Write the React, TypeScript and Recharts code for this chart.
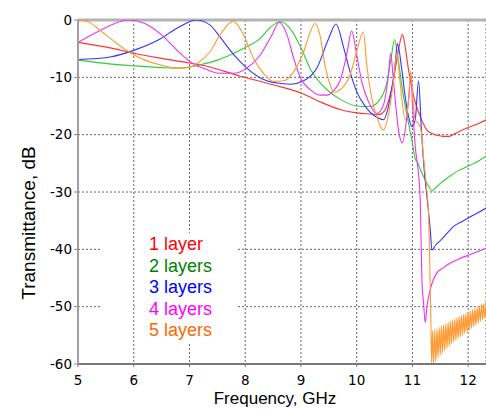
import React from "react";
import {
  LineChart,
  Line,
  XAxis,
  YAxis,
  CartesianGrid,
  ReferenceLine,
  ReferenceArea,
} from "recharts";

const xTicks = [5, 6, 7, 8, 9, 10, 11, 12];
const yTicks = [-60, -50, -40, -30, -20, -10, 0];

const legendLabels = ["1 layer", "2 layers", "3 layers", "4 layers", "5 layers"];

const layer1: [number, number][] = [
  [5, -3.9], [5.6, -4.9], [6.0, -5.8], [6.5, -6.7], [7.0, -7.5], [7.33, -8.1],
  [7.91, -9.8], [8.5, -11.3], [9.02, -12.8], [9.35, -14.3], [9.7, -15.6],
  [10.0, -16.2], [10.25, -16.4], [10.4, -16.5], [10.5, -15.8], [10.58, -13.8],
  [10.66, -10.5], [10.74, -5.8], [10.82, -2.5], [10.88, -5.3], [10.93, -8.7],
  [10.98, -11.3], [11.03, -13.6], [11.08, -15.3], [11.14, -16.8], [11.2, -18.2],
  [11.26, -19.2], [11.35, -19.8], [11.44, -20.1], [11.55, -20.3], [11.65, -20.3],
  [11.75, -19.9], [11.85, -19.4], [12.04, -18.6], [12.2, -18.0], [12.32, -17.4],
];

const layer2: [number, number][] = [
  [5, -7.0], [5.6, -7.7], [6.0, -8.0], [6.5, -8.3], [6.8, -8.4], [7.0, -8.2],
  [7.2, -7.8], [7.5, -7.0], [7.75, -6.0], [8.0, -4.8], [8.27, -3.2], [8.45, -1.3],
  [8.63, -0.3], [8.8, -1.4], [9.0, -4.8], [9.17, -8.6], [9.35, -11.0], [9.52, -12.6],
  [9.7, -13.8], [10.0, -15.0], [10.24, -15.1], [10.42, -13.8], [10.54, -11.0],
  [10.62, -6.5], [10.68, -3.4], [10.74, -6.5], [10.8, -10.8], [10.87, -15.0],
  [10.94, -18.5], [11.0, -21.5], [11.05, -24.2], [11.1, -25.0], [11.15, -26.3],
  [11.2, -27.3], [11.29, -29.0], [11.35, -29.8], [11.42, -29.2], [11.5, -28.5],
  [11.65, -27.4], [11.8, -26.4], [12.04, -25.3], [12.2, -24.5], [12.32, -23.8],
];

const layer3: [number, number][] = [
  [5, -6.9], [5.6, -6.4], [6.0, -5.3], [6.44, -3.5], [6.8, -1.3], [7.12, 0],
  [7.37, -0.9], [7.55, -3.0], [7.79, -6.0], [8.03, -8.4], [8.27, -10.1],
  [8.57, -11.0], [8.81, -11.2], [9.05, -10.6], [9.29, -8.3], [9.49, -3.4],
  [9.63, -0.7], [9.76, -4.6], [9.88, -9.0], [10.0, -12.5], [10.18, -15.4],
  [10.39, -17.1], [10.48, -17.4], [10.6, -13.6], [10.69, -7.8], [10.73, -4.1],
  [10.81, -8.7], [10.87, -13.4], [10.93, -16.8], [10.99, -18.6], [11.05, -17.4],
  [11.11, -10.6], [11.16, -19.0], [11.21, -26.0], [11.26, -30.8], [11.32, -36.6],
  [11.35, -40.1], [11.42, -39.2], [11.5, -38.5], [11.62, -37.2], [11.74, -36.0],
  [11.9, -35.1], [12.04, -34.3], [12.2, -33.5], [12.32, -32.8],
];

const layer4: [number, number][] = [
  [5, -3.9], [5.36, -2.0], [5.66, -0.6], [5.9, 0], [6.2, -0.6], [6.5, -2.6],
  [6.8, -5.5], [7.03, -7.4], [7.3, -8.6], [7.55, -9.3], [7.79, -9.3], [8.03, -8.4],
  [8.27, -6.1], [8.48, -2.6], [8.61, -0.4], [8.75, -2.6], [8.87, -6.7], [8.99, -10.1],
  [9.17, -12.2], [9.34, -13.1], [9.46, -13.1], [9.58, -12.4], [9.7, -10.6],
  [9.82, -6.1], [9.91, -1.9], [10.0, -6.1], [10.09, -10.7], [10.21, -14.2],
  [10.36, -16.3], [10.48, -14.8], [10.57, -9.6], [10.61, -5.8], [10.65, -9.5],
  [10.7, -14.8], [10.75, -19.2], [10.82, -21.4], [10.88, -18.5], [10.93, -14.0],
  [10.97, -10.0], [11.01, -16.0], [11.05, -22.0], [11.1, -26.0], [11.14, -31.4],
  [11.17, -45.3], [11.2, -49.4], [11.23, -52.8], [11.26, -50.0], [11.32, -47.0],
  [11.44, -44.1], [11.56, -43.2], [11.68, -42.4], [11.85, -41.6], [12.04, -40.9],
  [12.2, -40.3], [12.32, -39.8],
];

const layer5: [number, number][] = [
  [5, 0], [5.18, -0.3], [5.42, -2.0], [5.66, -3.8], [5.9, -5.5], [6.2, -7.0],
  [6.5, -7.9], [6.8, -8.4], [6.97, -8.3], [7.15, -7.5], [7.37, -5.5], [7.55, -2.6],
  [7.78, -0.2], [7.97, -2.6], [8.15, -6.7], [8.33, -9.3], [8.51, -10.7], [8.69, -10.6],
  [8.87, -9.0], [9.05, -5.5], [9.17, -2.0], [9.25, -0.6], [9.34, -2.6], [9.43, -7.8],
  [9.52, -11.2], [9.6, -12.6], [9.7, -12.2], [9.88, -9.6], [10.0, -5.5], [10.12, -2.1],
  [10.18, -7.8], [10.27, -13.6], [10.39, -17.7], [10.48, -19.2], [10.57, -16.5],
  [10.66, -10.7], [10.72, -5.8], [10.78, -11.0], [10.87, -17.4], [10.93, -14.0],
  [10.97, -9.0], [11.01, -14.0], [11.05, -17.5], [11.1, -18.0], [11.15, -19.0],
  [11.2, -24.0], [11.25, -29.0], [11.29, -34.0], [11.31, -42.0], [11.33, -52.0],
  [11.345, -60.0],
  [11.36, -54.2], [11.38, -60.0], [11.4, -54.0], [11.42, -59.6], [11.44, -53.8],
  [11.46, -59.0], [11.48, -53.6], [11.5, -58.5], [11.52, -53.3], [11.54, -58.1],
  [11.56, -53.1], [11.58, -57.7], [11.6, -52.9], [11.62, -57.3], [11.64, -52.7],
  [11.66, -56.9], [11.68, -52.5], [11.7, -56.5], [11.72, -52.3], [11.74, -56.2],
  [11.76, -52.1], [11.78, -55.9], [11.8, -51.9], [11.82, -55.6], [11.84, -51.7],
  [11.86, -55.3], [11.88, -51.5], [11.9, -55.0], [11.92, -51.3], [11.94, -54.7],
  [11.96, -51.1], [11.98, -54.4], [12.0, -50.9], [12.02, -54.1], [12.04, -50.7],
  [12.06, -53.8], [12.08, -50.5], [12.1, -53.5], [12.12, -50.3], [12.14, -53.2],
  [12.16, -50.1], [12.18, -52.9], [12.2, -49.9], [12.22, -52.6], [12.24, -49.6],
  [12.26, -52.3], [12.28, -49.4], [12.3, -52.0], [12.32, -49.1],
];

const toPts = (arr: [number, number][]) => arr.map(([x, y]) => ({ x, y }));

const series = [
  { name: legendLabels[0], data: toPts(layer1), stroke: "#ff3333", text: "#ff0000" },
  { name: legendLabels[1], data: toPts(layer2), stroke: "#33cc33", text: "#008000" },
  { name: legendLabels[2], data: toPts(layer3), stroke: "#3333ff", text: "#0000ff" },
  { name: legendLabels[3], data: toPts(layer4), stroke: "#ee33ee", text: "#ff00ff" },
  { name: legendLabels[4], data: toPts(layer5), stroke: "#ff9933", text: "#ff6600" },
];

const tickStyle = { fontFamily: "DejaVu Sans", fontSize: 13.5, fill: "#000" };

export default function App() {
  return (
    <div style={{ position: "absolute", left: 0, top: 0, width: 486, height: 409, background: "#fff" }}>
      <LineChart width={486} height={409} margin={{ top: 20, right: 0, bottom: 0, left: 0 }}>
        <CartesianGrid stroke="#666" strokeDasharray="2 2" />
        <ReferenceArea x1={5.4} x2={5.98} y1={-56.3} y2={-37.1} fill="#fff" fillOpacity={1} stroke="none" />
        <ReferenceArea x1={6.02} x2={7.85} y1={-56.3} y2={-37.1} fill="#fff" fillOpacity={1} stroke="none" />
        <XAxis
          type="number"
          dataKey="x"
          domain={[5, 12.32]}
          ticks={xTicks}
          allowDataOverflow
          height={45}
          tick={tickStyle}
          tickSize={3}
          tickMargin={8}
          axisLine={{ stroke: "#777", strokeWidth: 2 }}
          tickLine={{ stroke: "#777" }}
        />
        <YAxis
          type="number"
          dataKey="y"
          domain={[-60, 0]}
          ticks={yTicks}
          allowDataOverflow
          width={78}
          tick={tickStyle}
          tickSize={4}
          tickMargin={2}
          axisLine={{ stroke: "#a0a0a0", strokeWidth: 2 }}
          tickLine={{ stroke: "#888" }}
        />
        <ReferenceLine y={0} stroke="#b3b3b3" strokeWidth={3} />
        {series.map((s) => (
          <Line
            key={s.name}
            data={s.data}
            dataKey="y"
            type="monotone"
            stroke={s.stroke}
            strokeWidth={1.1}
            dot={false}
            isAnimationActive={false}
          />
        ))}
      </LineChart>
      <svg
        width={486}
        height={409}
        style={{ position: "absolute", left: 0, top: 0, pointerEvents: "none" }}
      >
        {series.map((s, i) => (
          <text
            key={s.name}
            x={149}
            y={250 + i * 21.5}
            fill={s.text}
            fontFamily="Liberation Sans, Arial, sans-serif"
            fontSize={18}
          >
            {s.name}
          </text>
        ))}
        <text
          x={275}
          y={404}
          textAnchor="middle"
          fontFamily="Liberation Sans, Arial, sans-serif"
          fontSize={17}
          fill="#000"
        >
          Frequency, GHz
        </text>
        <text
          x={0}
          y={0}
          transform="translate(35, 223) rotate(-90)"
          textAnchor="middle"
          fontFamily="Liberation Sans, Arial, sans-serif"
          fontSize={19}
          fill="#000"
        >
          Transmittance, dB
        </text>
      </svg>
    </div>
  );
}
